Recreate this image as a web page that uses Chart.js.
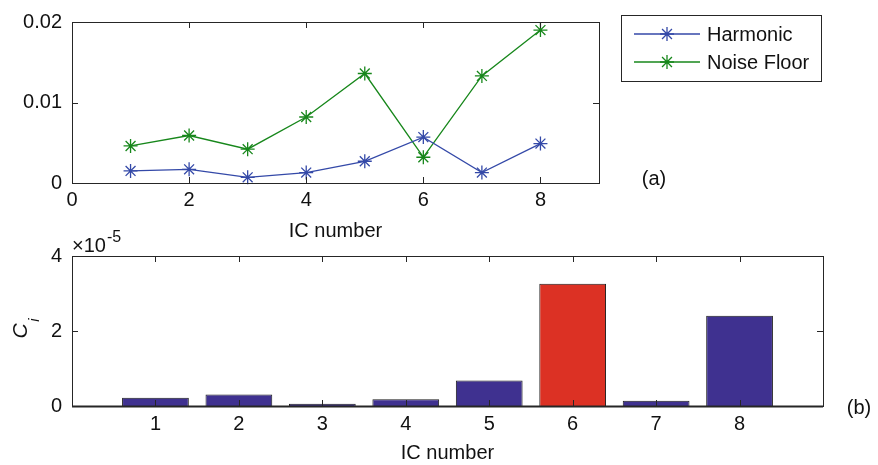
<!DOCTYPE html>
<html>
<head>
<meta charset="utf-8">
<script src="https://cdn.jsdelivr.net/npm/chart.js@4/dist/chart.umd.min.js"></script>
<style>
  body { margin: 0; background: #fff; }
  #wrap { position: relative; width: 878px; height: 465px; }
  canvas { position: absolute; left: 0; }
  #topChart { top: 0; }
  #bottomChart { top: 225px; }
</style>
</head>
<body>
<div id="wrap">
  <canvas id="topChart" width="878" height="245"></canvas>
  <canvas id="bottomChart" width="878" height="240"></canvas>
</div>
<script>
// (a) harmonic vs noise floor per independent component
const icNumbers = [1, 2, 3, 4, 5, 6, 7, 8];
const harmonic = [0.0015, 0.0017, 0.0007, 0.0013, 0.0027, 0.0057, 0.0013, 0.0049];
const noiseFloor = [0.0046, 0.0059, 0.0042, 0.0082, 0.0136, 0.0032, 0.0133, 0.0190];
const topXTicks = [0, 2, 4, 6, 8];
const topYTicks = [0, 0.01, 0.02];

// (b) C_i, in units of 1e-5
const ciValues = [0.22, 0.31, 0.06, 0.18, 0.68, 3.26, 0.14, 2.41];
const bottomYTicks = [0, 2, 4];
const flaggedIC = 6;

const AXIS = '#262626';
const BLUE = '#3449a8';
const GREEN = '#17871b';
const NAVY = '#3f3190';
const RED = '#dc3124';
const FONT = "'Liberation Sans', Arial, sans-serif";

Chart.defaults.font.family = FONT;
Chart.defaults.font.size = 20;
Chart.defaults.color = AXIS;

const fixedTicks = list => scale => { scale.ticks = list.map(v => ({ value: v })); };
const noGrid = { display: false, drawTicks: false };

// matlab style box with inward ticks, drawn over the data
const boxPlugin = {
  id: 'box',
  afterDatasetsDraw(chart, args, opts) {
    const { ctx, chartArea: a, scales: { x, y } } = chart;
    const len = opts.tickLen || 6;
    ctx.save();
    ctx.strokeStyle = AXIS;
    ctx.lineWidth = 1;
    ctx.beginPath();
    x.ticks.forEach(t => {
      const px = Math.round(x.getPixelForValue(t.value)) + 0.5;
      if (px <= a.left + 1 || px >= a.right - 1) return;
      ctx.moveTo(px, a.bottom); ctx.lineTo(px, a.bottom - len);
      ctx.moveTo(px, a.top); ctx.lineTo(px, a.top + len);
    });
    y.ticks.forEach(t => {
      const py = Math.round(y.getPixelForValue(t.value)) + 0.5;
      if (py <= a.top + 1 || py >= a.bottom - 1) return;
      ctx.moveTo(a.left, py); ctx.lineTo(a.left + len, py);
      ctx.moveTo(a.right, py); ctx.lineTo(a.right - len, py);
    });
    ctx.stroke();
    ctx.strokeRect(Math.round(a.left) + 0.5, Math.round(a.top) + 0.5,
      Math.round(a.right - a.left), Math.round(a.bottom - a.top));
    if (opts.heavyBase) {
      ctx.lineWidth = 2;
      ctx.beginPath();
      ctx.moveTo(a.left, a.bottom + 0.5); ctx.lineTo(a.right, a.bottom + 0.5);
      ctx.stroke();
    }
    ctx.restore();
  }
};

// legend box outside the axes, to the right
const sideLegend = {
  id: 'sideLegend',
  afterDraw(chart, args, opts) {
    if (!opts.box) return;
    const { ctx } = chart;
    const b = opts.box;
    ctx.save();
    ctx.fillStyle = '#fff';
    ctx.fillRect(b.x, b.y, b.w, b.h);
    ctx.strokeStyle = AXIS;
    ctx.lineWidth = 1;
    ctx.strokeRect(b.x + 0.5, b.y + 0.5, b.w, b.h);
    chart.data.datasets.forEach((ds, i) => {
      const yy = b.y + 19 + i * 28;
      ctx.strokeStyle = ds.borderColor;
      ctx.lineWidth = ds.borderWidth;
      ctx.beginPath();
      ctx.moveTo(b.x + 13, yy); ctx.lineTo(b.x + 79, yy);
      ctx.stroke();
      ctx.lineWidth = ds.pointBorderWidth;
      Chart.helpers.drawPoint(ctx, { pointStyle: 'star', radius: ds.pointRadius, rotation: 0, borderWidth: ds.pointBorderWidth }, b.x + 46, yy);
      ctx.fillStyle = '#111';
      ctx.font = '20px ' + FONT;
      ctx.textAlign = 'left';
      ctx.textBaseline = 'middle';
      ctx.fillText(ds.label, b.x + 86, yy + 1);
    });
    ctx.restore();
  }
};

// panel tag "(a)" / "(b)" and extra axis annotations
const panelText = {
  id: 'panelText',
  afterDraw(chart, args, opts) {
    const { ctx } = chart;
    ctx.save();
    ctx.fillStyle = '#111';
    ctx.font = '20px ' + FONT;
    ctx.textAlign = 'center';
    ctx.textBaseline = 'middle';
    if (opts.tag) ctx.fillText(opts.tag.text, opts.tag.x, opts.tag.y);
    if (opts.exponent) {
      const e = opts.exponent;
      ctx.textAlign = 'left';
      ctx.textBaseline = 'alphabetic';
      ctx.fillText('\u00d710', e.x, e.y);
      const w = ctx.measureText('\u00d710').width;
      ctx.font = '16px ' + FONT;
      ctx.fillText('-5', e.x + w + 1, e.y - 10);
    }
    if (opts.yTitle) {
      const t = opts.yTitle;
      ctx.translate(t.x, t.y);
      ctx.rotate(-Math.PI / 2);
      ctx.font = 'italic 21px ' + FONT;
      ctx.textAlign = 'center';
      ctx.fillText('C', 0, 0);
      ctx.font = 'italic 15px ' + FONT;
      ctx.fillText('i', 11, 12);
    }
    ctx.restore();
  }
};

const lineSet = (label, values, color) => ({
  label,
  data: icNumbers.map((ic, i) => ({ x: ic, y: values[i] })),
  borderColor: color,
  backgroundColor: color,
  borderWidth: 1.3,
  pointStyle: 'star',
  pointRadius: 7,
  pointBorderWidth: 1.3,
  pointBorderColor: color,
  fill: false,
  tension: 0,
  clip: false
});

new Chart(document.getElementById('topChart'), {
  type: 'line',
  data: {
    datasets: [
      lineSet('Harmonic', harmonic, BLUE),
      lineSet('Noise Floor', noiseFloor, GREEN)
    ]
  },
  options: {
    responsive: false,
    animation: false,
    devicePixelRatio: 1,
    layout: { padding: { left: 0, top: 17, right: 279, bottom: 0 } },
    scales: {
      x: {
        type: 'linear', min: 0, max: 9,
        afterBuildTicks: fixedTicks(topXTicks),
        afterFit: s => { s.height = 62; },
        grid: noGrid, border: { display: false },
        ticks: { padding: 5, color: '#111' },
        title: { display: true, text: 'IC number', color: '#111', padding: { top: 0, bottom: 2 } }
      },
      y: {
        min: 0, max: 0.02,
        afterBuildTicks: fixedTicks(topYTicks),
        afterFit: s => { s.width = 72; },
        grid: noGrid, border: { display: false },
        ticks: { padding: 10, color: '#111' }
      }
    },
    plugins: {
      legend: { display: false },
      tooltip: { enabled: false },
      box: { tickLen: 6 },
      sideLegend: { box: { x: 621, y: 15, w: 200, h: 66 } },
      panelText: { tag: { text: '(a)', x: 654, y: 179 } }
    }
  },
  plugins: [boxPlugin, sideLegend, panelText]
});

new Chart(document.getElementById('bottomChart'), {
  type: 'bar',
  data: {
    datasets: [{
      label: 'C_i',
      data: icNumbers.map((ic, i) => ({ x: ic, y: ciValues[i] })),
      backgroundColor: icNumbers.map(ic => ic === flaggedIC ? RED : NAVY),
      borderColor: '#1c1c1c',
      borderWidth: 1,
      barPercentage: 0.8,
      categoryPercentage: 1
    }]
  },
  options: {
    responsive: false,
    animation: false,
    devicePixelRatio: 1,
    layout: { padding: { left: 0, top: 31, right: 55, bottom: 0 } },
    scales: {
      x: {
        type: 'linear', min: 0, max: 9, offset: false,
        afterBuildTicks: fixedTicks(icNumbers),
        afterFit: s => { s.height = 59; },
        grid: noGrid, border: { display: false },
        ticks: { padding: 6, color: '#111' },
        title: { display: true, text: 'IC number', color: '#111', padding: { top: 0, bottom: 0 } }
      },
      y: {
        min: 0, max: 4,
        afterBuildTicks: fixedTicks(bottomYTicks),
        afterFit: s => { s.width = 72; },
        grid: noGrid, border: { display: false },
        ticks: { padding: 10, color: '#111' }
      }
    },
    plugins: {
      legend: { display: false },
      tooltip: { enabled: false },
      box: { tickLen: 6, heavyBase: true },
      panelText: {
        tag: { text: '(b)', x: 859, y: 183 },
        exponent: { x: 72, y: 27 },
        yTitle: { x: 27, y: 106 }
      }
    }
  },
  plugins: [boxPlugin, panelText]
});
</script>
</body>
</html>
